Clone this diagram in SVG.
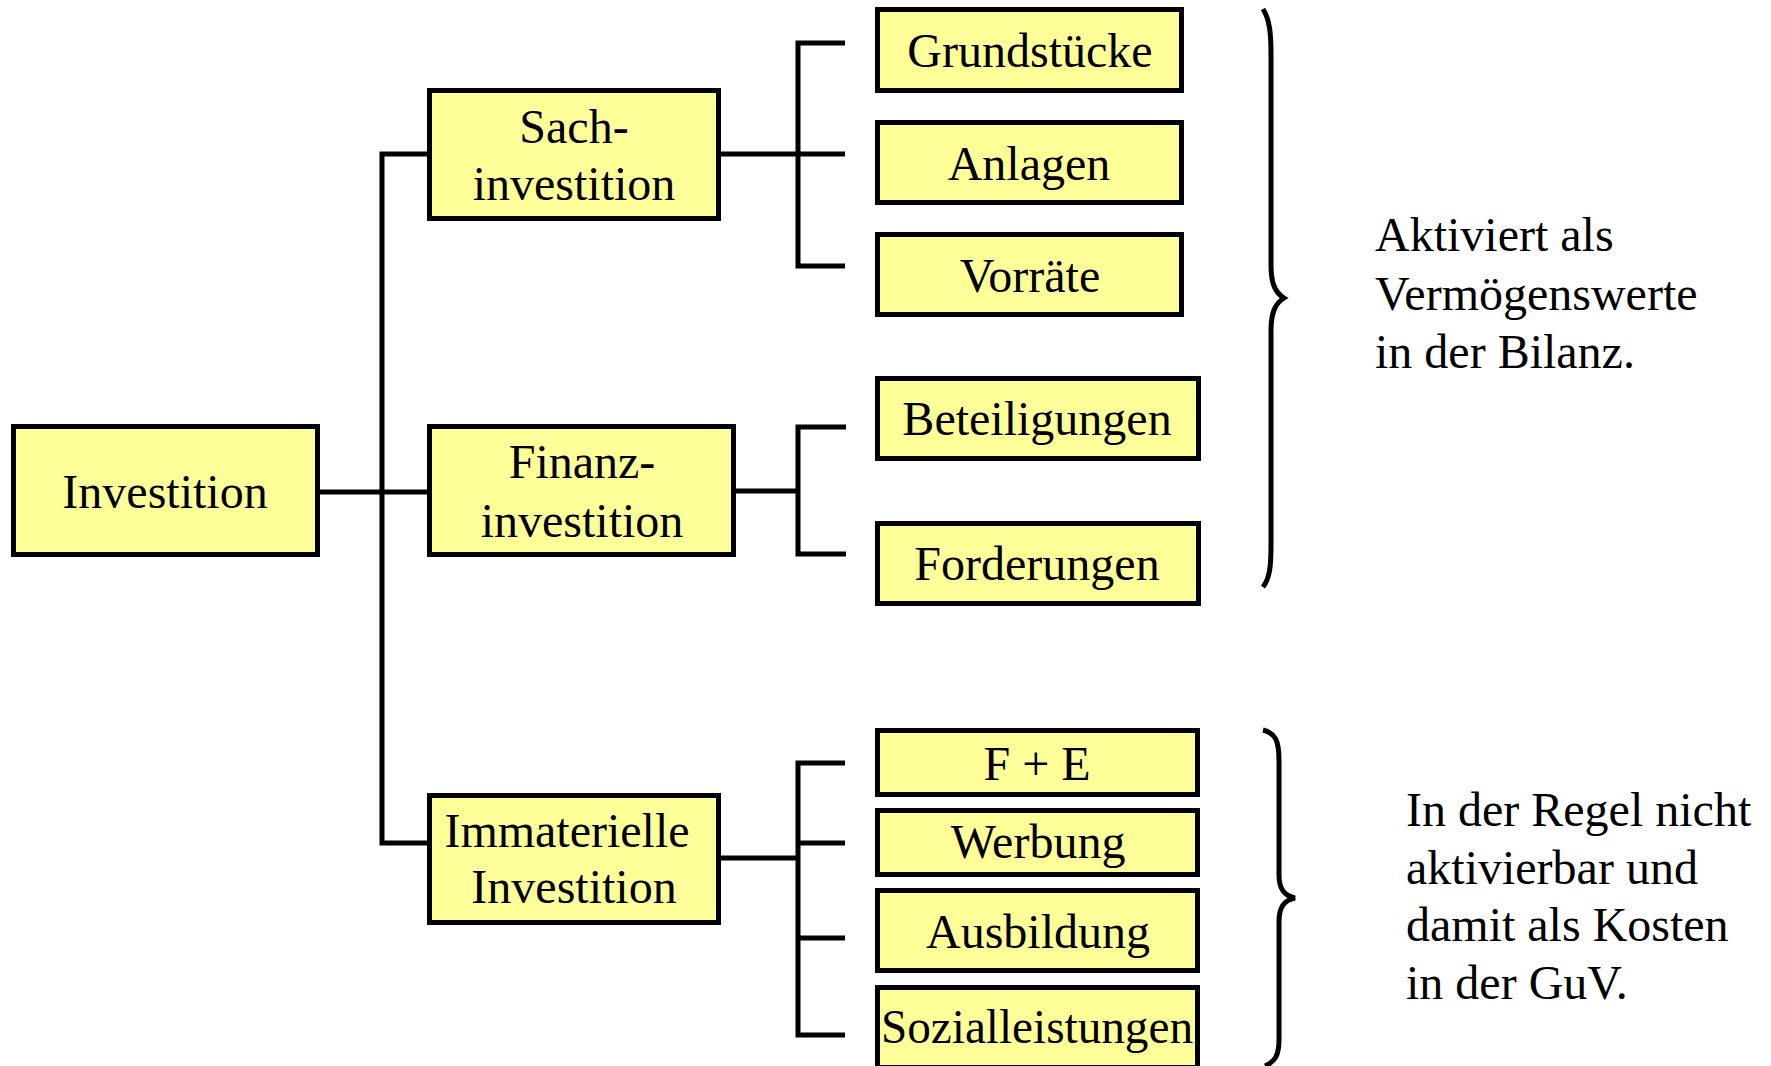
<svg xmlns="http://www.w3.org/2000/svg" width="1771" height="1066" viewBox="0 0 1771 1066">
<style>
.box{fill:#FFFF99;stroke:#000;stroke-width:5}
.t{font-family:"Liberation Serif","Times New Roman",serif;font-size:48px;fill:#000;text-anchor:middle}
.s{font-family:"Liberation Serif","Times New Roman",serif;font-size:48px;fill:#000}
.c{fill:none;stroke:#000;stroke-width:5;stroke-linejoin:miter}
</style>
<rect width="1771" height="1066" fill="#fff"/>
<g id="connectors">
<path class="c" d="M320,492 H427"/>
<path class="c" d="M427,154 H382 V843 H427"/>
<path class="c" d="M721,154 H798"/>
<path class="c" d="M845,43 H798 V266 H845"/>
<path class="c" d="M798,154 H845"/>
<path class="c" d="M736,491 H798"/>
<path class="c" d="M846,427 H798 V554 H846"/>
<path class="c" d="M721,858 H798"/>
<path class="c" d="M845,763 H798 V1035 H845"/>
<path class="c" d="M798,843 H845"/>
<path class="c" d="M798,938 H845"/>
</g>
<g id="n-investition"><rect class="box" x="13.5" y="426.5" width="304" height="128"/><text class="t" x="165" y="508">Investition</text></g>
<g id="n-sach"><rect class="box" x="429.5" y="90.5" width="289" height="128"/><text class="t" x="574" y="143">Sach-</text><text class="t" x="574" y="200">investition</text></g>
<g id="n-finanz"><rect class="box" x="429.5" y="426.5" width="304" height="128"/><text class="t" x="582" y="478">Finanz-</text><text class="t" x="582" y="537">investition</text></g>
<g id="n-immat"><rect class="box" x="429.5" y="795.5" width="289" height="127"/><text class="t" x="567" y="847">Immaterielle</text><text class="t" x="574" y="903">Investition</text></g>
<g id="n-grund"><rect class="box" x="877.5" y="9.5" width="304" height="81"/><text class="t" x="1030" y="67">Grundstücke</text></g>
<g id="n-anlagen"><rect class="box" x="877.5" y="122.5" width="304" height="80"/><text class="t" x="1029" y="180">Anlagen</text></g>
<g id="n-vorraete"><rect class="box" x="877.5" y="234.5" width="304" height="80"/><text class="t" x="1030" y="292">Vorräte</text></g>
<g id="n-beteil"><rect class="box" x="877.5" y="378.5" width="321" height="80"/><text class="t" x="1037" y="435">Beteiligungen</text></g>
<g id="n-forder"><rect class="box" x="877.5" y="523.5" width="321" height="80"/><text class="t" x="1037" y="580">Forderungen</text></g>
<g id="n-fe"><rect class="box" x="877.5" y="730.5" width="320" height="64"/><text class="t" x="1037" y="780">F + E</text></g>
<g id="n-werbung"><rect class="box" x="877.5" y="810.5" width="320" height="64"/><text class="t" x="1038" y="858">Werbung</text></g>
<g id="n-ausbildung"><rect class="box" x="877.5" y="890.5" width="320" height="80"/><text class="t" x="1038" y="948">Ausbildung</text></g>
<g id="n-sozial"><rect class="box" x="877.5" y="987.5" width="320" height="80"/><text class="t" x="1037" y="1043" textLength="312" lengthAdjust="spacingAndGlyphs">Sozialleistungen</text></g>
<g id="brace-upper">
<path class="c" d="M1263,9 C1270,20 1271,35 1271,55 L1271,265 C1271,285 1276,293 1284,298 C1276,303 1271,311 1271,331 L1271,545 C1271,565 1270,578 1263,587"/>
<text class="s" x="1375" y="251">Aktiviert als</text>
<text class="s" x="1375" y="310">Vermögenswerte</text>
<text class="s" x="1375" y="368">in der Bilanz.</text>
</g>
<g id="brace-lower">
<path class="c" d="M1263,730 C1275,733 1279,740 1279,760 L1279,875 C1279,890 1285,896 1295,898 C1285,900 1279,906 1279,921 L1279,1040 C1279,1055 1275,1062 1265,1066"/>
<text class="s" x="1406" y="826">In der Regel nicht</text>
<text class="s" x="1406" y="884">aktivierbar und</text>
<text class="s" x="1406" y="941">damit als Kosten</text>
<text class="s" x="1406" y="999">in der GuV.</text>
</g>
</svg>
